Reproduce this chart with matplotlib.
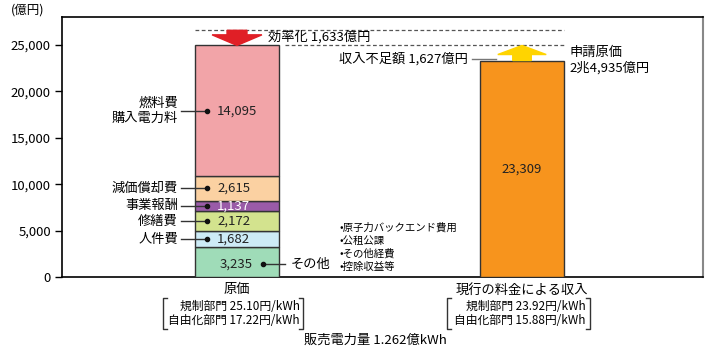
import numpy as np
import matplotlib.pyplot as plt
from matplotlib.patches import FancyArrow

plt.rcParams['font.family'] = ['Noto Sans CJK JP', 'DejaVu Sans']

# data
cost_labels = ["その他", "人件費", "修繕費", "事業報酬", "減価償却費", "燃料費\n購入電力料"]
cost_values = [3235, 1682, 2172, 1137, 2615, 14095]
cost_colors = ["#9fdcb8", "#cdebf6", "#d3e38e", "#9a5ba8", "#fbd1a2", "#f2a4a8"]
revenue = 23309
efficiency = 1633
shortfall = 1627
applied_cost = 24935
others_items = ["•原子力バックエンド費用", "•公租公課", "•その他経費", "•控除収益等"]

W, H = 710, 358
fig = plt.figure(figsize=(7.1, 3.58), dpi=100)
ax = fig.add_axes([62 / W, 1 - 277 / H, (703 - 62) / W, (277 - 17) / H])

def fx(px):
    return px / W

def fy(py):
    return 1 - py / H

bw = 0.295
bottom = 0
for v, c in zip(cost_values, cost_colors):
    ax.bar(0, v, bw, bottom=bottom, color=c, edgecolor="#333333", linewidth=1.0, zorder=3)
    bottom += v
total = bottom
ax.bar(1, revenue, bw, color="#f7941d", edgecolor="#333333", linewidth=1.0, zorder=3)

ax.set_xlim(-0.614, 1.635)
ax.set_ylim(0, 28000)
ax.set_xticks([])
ax.set_yticks(np.arange(0, 25001, 5000))
ax.set_yticklabels([f"{v:,}" for v in range(0, 25001, 5000)], fontsize=9.5)
ax.tick_params(axis="y", length=5, width=1, pad=3)
for s in ["left", "bottom", "top"]:
    ax.spines[s].set_linewidth(1.2)
ax.spines["right"].set_color("#888888")
ax.spines["right"].set_linewidth(1.5)
fig.text(fx(28), fy(10), "(億円)", ha="center", va="center", fontsize=9)

# segment labels
lab_x, dot_x, val_x = -0.207, -0.105, -0.07
bottom = 0
mids = []
for v in cost_values:
    mids.append(bottom + v / 2)
    bottom += v
for i, (lab, v, m) in enumerate(zip(cost_labels, cost_values, mids)):
    vcol = "white" if i == 3 else "#222222"
    if i == 0:
        ax.plot([0.09, 0.17], [m - 250, m - 250], color="#333333", lw=1, zorder=4)
        ax.plot(0.09, m - 250, "o", color="#111111", ms=3, zorder=5)
        ax.text(0.19, m - 250, lab, ha="left", va="center", fontsize=9.5, zorder=5)
        ax.text(-0.06, m - 250, f"{v:,}", ha="left", va="center", fontsize=9.5, color=vcol, zorder=5)
        continue
    ax.plot([lab_x + 0.01, dot_x], [m, m], color="#333333", lw=1, zorder=4, clip_on=False)
    ax.plot(dot_x, m, "o", color="#111111", ms=3, zorder=5)
    ax.text(lab_x, m, lab, ha="right", va="center", fontsize=9.5, linespacing=1.2, zorder=5)
    ax.text(val_x, m, f"{v:,}", ha="left", va="center", fontsize=9.5, color=vcol, zorder=5)

ax.text(1, revenue / 2, f"{revenue:,}", ha="center", va="center", fontsize=9.5, color="#222222", zorder=5)

# dashed reference lines
top_line = total + efficiency
ax.plot([-bw / 2, 1 + bw / 2], [top_line, top_line], ls=(0, (3, 2)), color="#555555", lw=0.9, zorder=2)
ax.plot([0.17, 1 + bw / 2], [applied_cost, applied_cost], ls=(0, (3, 2)), color="#555555", lw=0.9, zorder=2)

# arrows
ax.add_patch(FancyArrow(0, top_line, 0, -(top_line - total), width=0.07, head_width=0.175,
                        head_length=(top_line - total) * 0.7, length_includes_head=True,
                        color="#e01f26", zorder=4))
ax.add_patch(FancyArrow(1, revenue, 0, applied_cost - revenue, width=0.065, head_width=0.17,
                        head_length=(applied_cost - revenue) * 0.6, length_includes_head=True,
                        color="#ffd400", zorder=4))

ax.text(0.11, (top_line + total) / 2 + 100, f"効率化 {efficiency:,}億円", ha="left", va="center", fontsize=9.5)
ax.text(0.81, revenue + 170, f"収入不足額 {shortfall:,}億円", ha="right", va="center", fontsize=9.5)
ax.plot([0.825, 0.91], [revenue + 170, revenue + 170], color="#777777", lw=1)
ax.text(1 + bw / 2 + 0.02, applied_cost, "申請原価\n2兆4,935億円", ha="left", va="top",
        fontsize=9.5, linespacing=1.25)

for k, item in enumerate(others_items):
    ax.text(0.36, 5280 - k * 1400, item, ha="left", va="center", fontsize=7.5)

# bottom annotations
fig.text(fx(237), fy(290), "原価", ha="center", va="center", fontsize=9.5)
fig.text(fx(522), fy(290), "現行の料金による収入", ha="center", va="center", fontsize=9.5)
fig.text(fx(300), fy(306), "規制部門 25.10円/kWh", ha="right", va="center", fontsize=8.5)
fig.text(fx(300), fy(321), "自由化部門 17.22円/kWh", ha="right", va="center", fontsize=8.5)
fig.text(fx(586), fy(306), "規制部門 23.92円/kWh", ha="right", va="center", fontsize=8.5)
fig.text(fx(586), fy(321), "自由化部門 15.88円/kWh", ha="right", va="center", fontsize=8.5)
fig.text(fx(375), fy(340), "販売電力量 1.262億kWh", ha="center", va="center", fontsize=9.5)

for l, r in [(163, 303), (447, 590)]:
    y0, y1 = fy(298), fy(329)
    fig.add_artist(plt.Line2D([fx(l + 4), fx(l), fx(l), fx(l + 4)], [y0, y0, y1, y1],
                              color="#333333", lw=1))
    fig.add_artist(plt.Line2D([fx(r - 4), fx(r), fx(r), fx(r - 4)], [y0, y0, y1, y1],
                              color="#333333", lw=1))

fig.savefig("out.png", dpi=100)
